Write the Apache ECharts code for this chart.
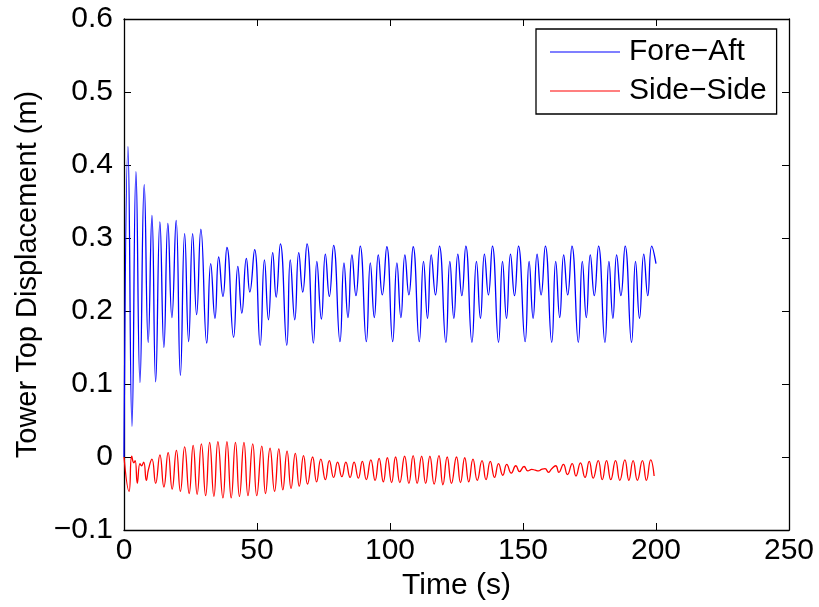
<!DOCTYPE html>
<html>
<head>
<meta charset="utf-8">
<script src="https://cdn.jsdelivr.net/npm/echarts@6/dist/echarts.min.js"></script>
<style>html,body{margin:0;padding:0;background:#fff}#c{width:819px;height:607px}</style>
</head>
<body>
<div id="c"></div>
<script>
var xTicks = [0, 50, 100, 150, 200, 250];
var yTicks = [-0.1, 0, 0.1, 0.2, 0.3, 0.4, 0.5, 0.6];
var seriesNames = ['Fore\u2212Aft', 'Side\u2212Side'];

var foreAftTime = [0, 1.5, 3.0, 4.5, 6.0, 7.6, 9.1, 10.5, 11.9, 13.5, 15.0, 16.5, 18.0, 19.6, 21.2, 22.8, 24.3, 25.8, 27.3, 28.9, 31.1, 32.6, 34.2, 35.6, 37.2, 38.7,
  41.2, 42.8, 44.3, 46.0, 47.3, 49.1, 51.2, 52.8, 54.3, 55.9, 57.2, 58.8, 61.2, 62.5, 64.2, 65.7, 67.2, 68.8, 71.2, 72.5, 74.2, 75.7, 77.2, 78.8,
  81.2, 82.7, 84.2, 85.7, 87.2, 88.8, 91.1, 92.6, 94.1, 95.6, 97.1, 98.8, 101.0, 102.6, 104.1, 105.6, 107.1, 108.7, 111.0, 112.6, 114.1, 115.5, 117.1, 118.6,
  121.0, 122.5, 124.0, 125.5, 127.0, 128.5, 130.8, 132.5, 134.0, 135.5, 137.0, 138.5, 140.8, 142.3, 143.8, 145.3, 146.8, 148.3, 150.8, 152.3, 153.8, 155.3, 156.8, 158.4,
  160.8, 162.3, 163.8, 165.3, 166.8, 168.4, 170.8, 172.3, 173.8, 175.3, 176.8, 178.4, 180.8, 182.3, 183.8, 185.2, 186.8, 188.4, 190.8, 192.3, 193.8, 195.4, 196.9, 198.4, 200];
var foreAftDisp = [0, 0.425, 0.042, 0.391, 0.102, 0.373, 0.157, 0.331, 0.103, 0.322, 0.150, 0.320, 0.191, 0.324, 0.112, 0.306, 0.158, 0.306, 0.195, 0.312, 0.156, 0.265, 0.190, 0.274, 0.220, 0.287,
  0.164, 0.261, 0.197, 0.272, 0.226, 0.284, 0.153, 0.270, 0.188, 0.280, 0.219, 0.292, 0.153, 0.270, 0.188, 0.280, 0.226, 0.292, 0.156, 0.268, 0.189, 0.278, 0.220, 0.290,
  0.158, 0.266, 0.191, 0.277, 0.221, 0.289, 0.158, 0.266, 0.191, 0.277, 0.222, 0.288, 0.158, 0.266, 0.191, 0.277, 0.222, 0.288, 0.158, 0.268, 0.190, 0.277, 0.222, 0.289,
  0.157, 0.268, 0.190, 0.278, 0.221, 0.289, 0.157, 0.268, 0.190, 0.278, 0.222, 0.289, 0.157, 0.268, 0.190, 0.278, 0.221, 0.289, 0.158, 0.268, 0.190, 0.278, 0.222, 0.289,
  0.157, 0.268, 0.191, 0.277, 0.222, 0.289, 0.157, 0.268, 0.191, 0.277, 0.221, 0.289, 0.157, 0.268, 0.190, 0.277, 0.221, 0.289, 0.157, 0.268, 0.190, 0.278, 0.221, 0.289, 0.265];

var sideSideTime = [0, 1.9, 2.9, 3.7, 4.2, 5.0, 6.0, 6.6, 7.4, 8.4, 9.2, 10.5, 11.9, 13.5, 15.0, 16.6, 18.1, 19.7, 21.2, 22.8,
  24.5, 26.0, 27.5, 29.1, 30.7, 32.2, 33.8, 35.3, 37.2, 38.7, 40.3, 41.9, 43.4, 45.1, 46.6, 48.4, 49.9, 51.8, 53.2, 54.9,
  56.6, 58.2, 59.7, 61.3, 62.8, 64.4, 65.9, 67.5, 69.0, 70.9, 72.4, 74.0, 75.7, 77.2, 78.8, 80.3, 81.9, 83.4, 85.0, 86.5,
  88.1, 89.6, 91.1, 92.8, 94.4, 95.9, 97.5, 99.0, 100.6, 102.1, 103.7, 105.5, 107.1, 108.7, 110.2, 111.9, 113.4, 115.0, 116.6, 118.4,
  119.9, 121.5, 123.1, 125.0, 126.5, 128.1, 129.6, 131.2, 132.8, 134.6, 136.1, 137.7, 139.3, 140.8, 142.4, 143.9, 145.6, 147.3, 148.7, 150.4,
  151.8, 153.3, 154.6, 155.8, 157.0, 158.3, 159.6, 160.8, 162.3, 163.5, 165.2, 166.7, 168.5, 169.9, 171.6, 173.3, 174.9, 176.4, 178.3, 179.8,
  181.4, 183.0, 184.8, 186.4, 188.3, 189.8, 191.4, 193.0, 194.9, 196.4, 198.0, 199.3];
var sideSideDisp = [0, -0.047, 0.001, -0.008, -0.005, -0.036, -0.009, -0.012, -0.007, -0.032, -0.017, -0.003, -0.036, 0.003, -0.041, 0.006, -0.044, 0.009, -0.047, 0.014,
  -0.050, 0.016, -0.051, 0.018, -0.053, 0.020, -0.054, 0.021, -0.056, 0.021, -0.056, 0.020, -0.054, 0.020, -0.053, 0.018, -0.053, 0.015, -0.050, 0.012,
  -0.047, 0.011, -0.045, 0.008, -0.043, 0.005, -0.040, 0.002, -0.037, 0.000, -0.034, -0.003, -0.031, -0.005, -0.028, -0.007, -0.027, -0.007, -0.028, -0.007,
  -0.029, -0.006, -0.031, -0.004, -0.032, -0.002, -0.034, -0.001, -0.035, 0.000, -0.035, 0.001, -0.036, 0.002, -0.036, 0.001, -0.036, 0.001, -0.037, 0.002,
  -0.038, 0.000, -0.036, 0.000, -0.035, -0.001, -0.034, -0.003, -0.032, -0.005, -0.031, -0.006, -0.028, -0.009, -0.025, -0.010, -0.022, -0.012, -0.020, -0.013,
  -0.019, -0.017, -0.018, -0.019, -0.017, -0.016, -0.021, -0.016, -0.012, -0.021, -0.010, -0.024, -0.009, -0.026, -0.008, -0.028, -0.006, -0.029, -0.005, -0.031,
  -0.005, -0.031, -0.005, -0.032, -0.004, -0.032, -0.005, -0.032, -0.005, -0.032, -0.004, -0.026];

function pairs(t, v) { var out = []; for (var i = 0; i < t.length; i++) out.push([t[i], v[i]]); return out; }
function fmtY(v) { if (Math.abs(v) < 1e-9) return '0'; return v.toFixed(1).replace('-', '\u2212'); }

var FONT = "'Liberation Sans', Arial, Helvetica, sans-serif";
var FS = 30;
var chart = echarts.init(document.getElementById('c'), null, { renderer: 'canvas' });
var tickStyle = { show: true, inside: true, length: 7, lineStyle: { color: '#000', width: 1 } };
var lineAx = { show: true, onZero: false, lineStyle: { color: '#000', width: 1.3 } };
chart.setOption({
  animation: false,
  backgroundColor: '#fff',
  textStyle: { fontFamily: FONT },
  grid: { left: 124, right: 30, top: 19, bottom: 77, containLabel: false },
  legend: {
    data: seriesNames, left: 536, top: 29, orient: 'vertical',
    icon: 'rect', itemWidth: 70, itemHeight: 1, itemGap: 9,
    padding: [8, 10, 8, 14],
    borderColor: '#000', borderWidth: 1.3, backgroundColor: '#fff',
    textStyle: { fontSize: FS, lineHeight: 30, color: '#000', fontFamily: FONT, padding: [0, 0, 0, 4] },
    selectedMode: false
  },
  xAxis: [
    { type: 'value', position: 'bottom', min: xTicks[0], max: xTicks[xTicks.length - 1], interval: 50,
      name: 'Time (s)', nameLocation: 'middle', nameGap: 38,
      nameTextStyle: { fontSize: FS, color: '#000', fontFamily: FONT },
      axisLine: lineAx, axisTick: tickStyle, splitLine: { show: false },
      axisLabel: { fontSize: FS, color: '#000', margin: 6, fontFamily: FONT } },
    { type: 'value', position: 'top', min: xTicks[0], max: xTicks[xTicks.length - 1], interval: 50,
      axisLine: lineAx, axisTick: tickStyle, splitLine: { show: false }, axisLabel: { show: false } }
  ],
  yAxis: [
    { type: 'value', position: 'left', min: yTicks[0], max: yTicks[yTicks.length - 1], interval: 0.1,
      name: 'Tower Top Displacement (m)', nameLocation: 'middle', nameGap: 77,
      nameTextStyle: { fontSize: 29, color: '#000', fontFamily: FONT },
      axisLine: lineAx, axisTick: tickStyle, splitLine: { show: false },
      axisLabel: { fontSize: FS, color: '#000', margin: 11, fontFamily: FONT, formatter: fmtY } },
    { type: 'value', position: 'right', min: yTicks[0], max: yTicks[yTicks.length - 1], interval: 0.1,
      axisLine: lineAx, axisTick: tickStyle, splitLine: { show: false }, axisLabel: { show: false } }
  ],
  series: [
    { name: seriesNames[0], type: 'line', xAxisIndex: 0, yAxisIndex: 0, data: pairs(foreAftTime, foreAftDisp),
      smooth: 0.5, symbol: 'none', lineStyle: { color: '#0000ff', width: 1.3 }, itemStyle: { color: '#0000ff' } },
    { name: seriesNames[1], type: 'line', xAxisIndex: 0, yAxisIndex: 0, data: pairs(sideSideTime, sideSideDisp),
      smooth: 0.5, symbol: 'none', lineStyle: { color: '#ff0000', width: 1.3 }, itemStyle: { color: '#ff0000' } }
  ]
});
</script>
</body>
</html>
